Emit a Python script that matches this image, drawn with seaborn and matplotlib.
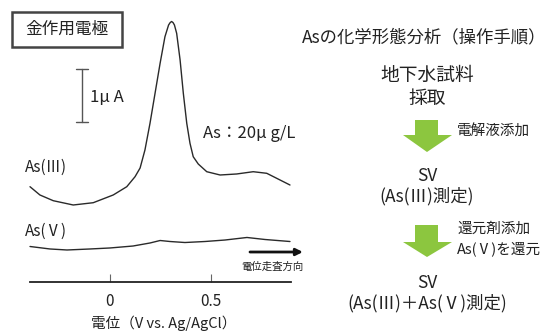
import matplotlib
matplotlib.use("Agg")
import matplotlib.pyplot as plt
import matplotlib.transforms as mtransforms
from matplotlib.patches import Rectangle, Polygon
import pandas as pd
import seaborn as sns

# Stripping voltammograms on a gold working electrode (potential in V, current in µA)
potential_as3 = [-0.396, -0.347, -0.281, -0.182, -0.083, 0.016, 0.083, 0.124, 0.149,
                 0.173, 0.198, 0.223, 0.248, 0.272, 0.290, 0.298, 0.305, 0.312, 0.319,
                 0.330, 0.347, 0.363, 0.380, 0.396, 0.412, 0.437, 0.479, 0.545, 0.627,
                 0.709, 0.776, 0.825, 0.891]
current_as3 = [1.798, 1.642, 1.534, 1.453, 1.496, 1.642, 1.798, 1.987, 2.151,
               2.491, 2.994, 3.560, 4.126, 4.628, 4.849, 4.895, 4.915, 4.895, 4.849,
               4.692, 4.189, 3.560, 2.994, 2.617, 2.364, 2.226, 2.081, 2.019, 2.038,
               2.081, 2.051, 1.957, 1.830]

potential_as5 = [-0.396, -0.297, -0.213, -0.099, 0.000, 0.114, 0.198, 0.248, 0.297,
                 0.371, 0.470, 0.569, 0.678, 0.767, 0.891]
current_as5 = [0.670, 0.623, 0.604, 0.623, 0.642, 0.679, 0.736, 0.783, 0.764,
               0.745, 0.764, 0.792, 0.840, 0.802, 0.764]

tick_values = [0, 0.5]
tick_labels = ["0", "0.5"]

procedure_title = "Asの化学形態分析（操作手順）"
procedure_steps = ["地下水試料\n採取", "SV\n(As(Ⅲ)測定)", "SV\n(As(Ⅲ)＋As(Ⅴ)測定)"]
step_actions = ["電解液添加", "還元剤添加\nAs(Ⅴ)を還元"]

sns.set_theme(style="white")
plt.rcParams["font.family"] = ["Noto Sans CJK JP", "DejaVu Sans"]

W, H = 550, 332
fig = plt.figure(figsize=(W / 100, H / 100), dpi=100)
fig.patch.set_facecolor("white")

# pixel helper for the figure-level annotations (origin top-left)
px = mtransforms.Affine2D().scale(1 / W, -1 / H).translate(0, 1) + fig.transFigure

# voltammogram panel
ax = fig.add_axes([0, 0, 310 / W, 1])
ax.patch.set_alpha(0)
ax.set_xlim((0 - 110) / 202, (310 - 110) / 202)
ax.set_ylim((282 - 332) / 53, 282 / 53)

df3 = pd.DataFrame({"potential": potential_as3, "current": current_as3})
df5 = pd.DataFrame({"potential": potential_as5, "current": current_as5})
line_color = "#2a2a2a"
sns.lineplot(data=df3, x="potential", y="current", ax=ax, color=line_color,
             lw=1.0, estimator=None)
sns.lineplot(data=df5, x="potential", y="current", ax=ax, color=line_color,
             lw=1.0, estimator=None)

for side in ["top", "right", "left"]:
    ax.spines[side].set_visible(False)
ax.spines["bottom"].set_position(("data", 0))
ax.spines["bottom"].set_bounds(-0.396, 0.895)
ax.spines["bottom"].set_color("#222222")
ax.spines["bottom"].set_linewidth(1.3)
ax.set_xticks(tick_values)
ax.set_xticklabels(tick_labels)
ax.set_yticks([])
ax.tick_params(axis="x", direction="in", length=6, width=0.8, color="#666666",
               pad=8, labelsize=11, labelcolor="#222222", bottom=True)
ax.set_xlabel("電位（V vs. Ag/AgCl）", fontsize=10.5, color="#222222", va="center")
ax.xaxis.set_label_coords(164 / 310, (332 - 323) / 332)
ax.set_ylabel("")

# current scale bar
bar_x, bar_lo, bar_hi = -0.139, 3.02, 4.02
ax.plot([bar_x, bar_x], [bar_lo, bar_hi], color="#555555", lw=1.0)
for yv in (bar_lo, bar_hi):
    ax.plot([bar_x - 0.03, bar_x + 0.03], [yv, yv], color="#555555", lw=1.0)
ax.text(-0.099, 3.49, "1μ A", fontsize=12, color="#222222", va="center", ha="left")

ax.text(-0.421, 2.17, "As(Ⅲ)", fontsize=11, color="#222222", va="center", ha="left")
ax.text(-0.421, 0.962, "As(Ⅴ)", fontsize=11, color="#222222", va="center", ha="left")
ax.text(0.460, 2.81, "As：20μ g/L", fontsize=12, color="#222222", va="center", ha="left")

# scan direction arrow
ax.annotate("", xy=(0.955, 0.566), xytext=(0.693, 0.566),
            arrowprops=dict(arrowstyle="-|>", color="#111111", lw=2.0,
                            mutation_scale=10, shrinkA=0, shrinkB=0))
ax.text(0.805, 0.283, "電位走査方向", fontsize=7.5, color="#222222",
        va="center", ha="center")

# electrode label box
fig.patches.append(Rectangle((12, 12), 110, 35, transform=px, fill=True,
                             facecolor="white", edgecolor="#444444", lw=1.8))
fig.text(67 / W, 1 - 29 / H, "金作用電極", fontsize=12, color="#222222",
         ha="center", va="center")

# procedure flow
fig.text(424 / W, 1 - 37 / H, procedure_title, fontsize=12.5,
         color="#222222", ha="center", va="center")
step_y = [87, 186, 293]
step_size = [13.5, 12.5, 12.5]
for text, yc, fs in zip(procedure_steps, step_y, step_size):
    fig.text(427 / W, 1 - yc / H, text, fontsize=fs, color="#222222",
             ha="center", va="center", linespacing=1.15, multialignment="center")

green = "#8cc63f"
for top, neck, tip in [(120, 135, 152), (225, 242, 257)]:
    shape = [(415, top), (438, top), (438, neck), (452, neck), (427, tip),
             (403, neck), (415, neck)]
    fig.patches.append(Polygon(shape, closed=True, transform=px,
                               facecolor=green, edgecolor="none"))

fig.text(457 / W, 1 - 132 / H, step_actions[0], fontsize=10.5, color="#222222",
         ha="left", va="center")
fig.text(457 / W, 1 - 239 / H, step_actions[1], fontsize=10.5, color="#222222",
         ha="left", va="center", linespacing=1.4)

fig.savefig("out.png", dpi=100)
